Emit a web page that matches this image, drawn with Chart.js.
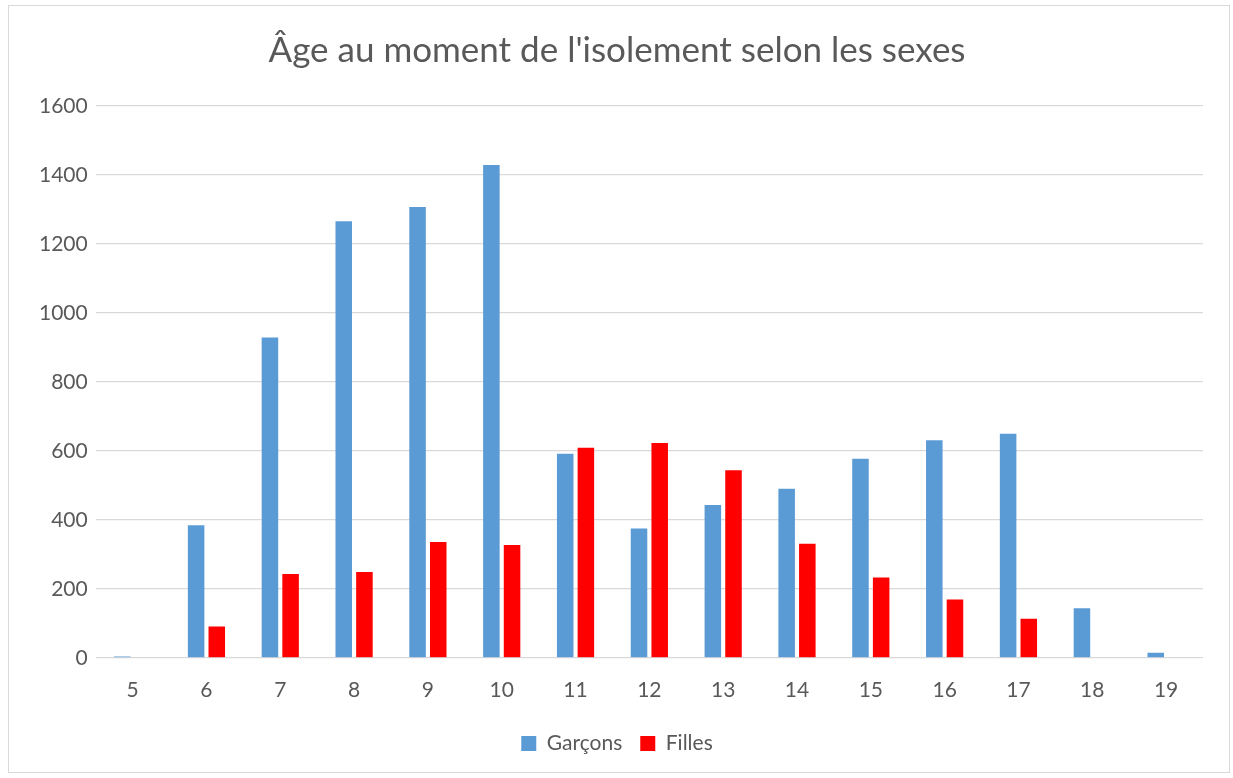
<!DOCTYPE html>
<html>
<head>
<meta charset="utf-8">
<script src="https://cdn.jsdelivr.net/npm/chart.js@4"></script>
<style>
  body { margin: 0; background: #fff; }
  #box {
    position: absolute; left: 8px; top: 5px;
    width: 1222px; height: 768px;
    border: 1px solid #D9D9D9; box-sizing: border-box;
  }
</style>
</head>
<body>
<div id="box"><canvas id="chart"></canvas></div>
<script>
// data
const ages = ["5","6","7","8","9","10","11","12","13","14","15","16","17","18","19"];
const garcons = [4, 384, 929, 1266, 1307, 1429, 592, 375, 443, 490, 577, 631, 650, 144, 15];
const filles = [0, 91, 243, 249, 336, 327, 609, 623, 544, 331, 233, 169, 113, 0, 0];
const yTicks = [0, 200, 400, 600, 800, 1000, 1200, 1400, 1600];

const font = "Lato, 'Open Sans', sans-serif";
const textColor = "#595959";

new Chart(document.getElementById("chart"), {
    type: "bar",
    data: {
        labels: ages,
        datasets: [
            { label: "Garçons", data: garcons, backgroundColor: "#5B9BD5" },
            { label: "Filles", data: filles, backgroundColor: "#FF0000" }
        ]
    },
    options: {
        responsive: true,
        maintainAspectRatio: false,
        animation: false,
        datasets: { bar: { categoryPercentage: 0.56, barPercentage: 0.8 } },
        layout: { padding: { left: 22, right: 26, top: 14, bottom: 8 } },
        plugins: {
            title: {
                display: true,
                text: "Âge au moment de l'isolement selon les sexes",
                color: textColor,
                font: { family: font, size: 35, weight: "normal" },
                padding: { top: 10, bottom: 34 }
            },
            legend: {
                position: "bottom",
                labels: {
                    color: textColor,
                    font: { family: font, size: 21 },
                    boxWidth: 15, boxHeight: 15,
                    padding: 18
                }
            },
            tooltip: { enabled: false }
        },
        scales: {
            x: {
                grid: { display: false },
                border: { display: false },
                ticks: { color: textColor, font: { family: font, size: 21 }, padding: 12 }
            },
            y: {
                min: 0, max: 1600,
                afterBuildTicks: axis => { axis.ticks = yTicks.map(v => ({ value: v })); },
                grid: { color: "#D9D9D9", lineWidth: 1.3, drawTicks: false },
                border: { display: false },
                ticks: {
                    color: textColor, font: { family: font, size: 21 }, padding: 8,
                    callback: v => String(v)
                }
            }
        }
    }
});
</script>
</body>
</html>
